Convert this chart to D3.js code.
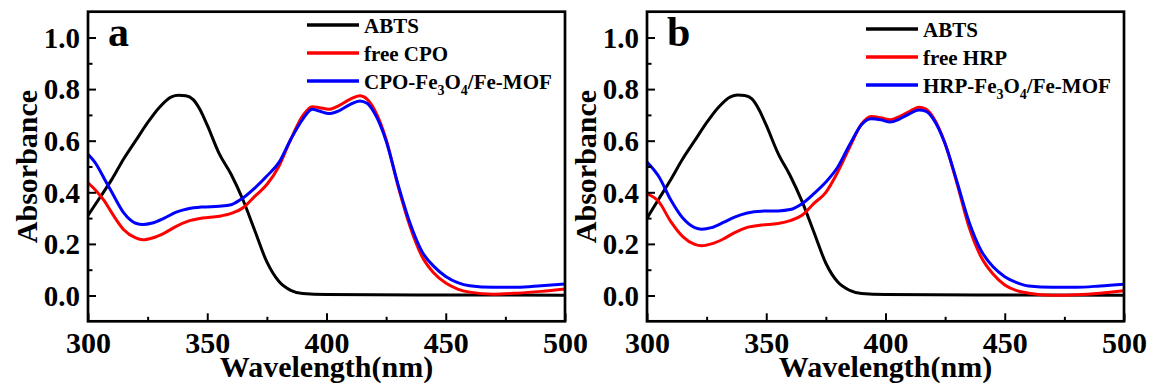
<!DOCTYPE html>
<html>
<head>
<meta charset="utf-8">
<script src="https://cdn.jsdelivr.net/npm/d3@7"></script>
<style>
  body { margin: 0; background: #fff; }
  svg { display: block; }
  text { font-family: "Liberation Serif", "Times New Roman", serif; font-weight: bold; fill: #000; }
</style>
</head>
<body>
<svg id="chart" width="1150" height="385"></svg>
<script>
// wavelengths (nm) for the ABTS curves
var wlAbts = [300,305,310,315,320,325,330,335,338,341,344,347,350,355,360,365,370,375,380,385,390,400,450,500];
var abtsA = [0.31,0.38,0.45,0.53,0.60,0.67,0.73,0.77,0.776,0.774,0.76,0.72,0.66,0.55,0.47,0.37,0.25,0.13,0.055,0.02,0.008,0.004,0.002,0.001];
var abtsB = [0.30,0.375,0.45,0.53,0.60,0.67,0.73,0.77,0.777,0.775,0.762,0.72,0.66,0.55,0.465,0.365,0.245,0.125,0.052,0.02,0.008,0.004,0.002,0.001];

// panel a: CPO
var wlA = [300,303,307,310,315,320,323,327,332,337,342,348,355,360,365,370,375,380,385,390,394,397,401,405,410,414,417,420,425,430,435,440,445,450,455,460,470,480,490,500];
var freeCPO = [0.437,0.41,0.365,0.32,0.255,0.223,0.216,0.223,0.242,0.268,0.288,0.30,0.307,0.318,0.34,0.385,0.43,0.50,0.605,0.696,0.732,0.728,0.722,0.735,0.761,0.774,0.761,0.722,0.605,0.424,0.268,0.152,0.087,0.048,0.025,0.013,0.005,0.009,0.016,0.025];
var cpoMOF = [0.547,0.515,0.45,0.40,0.32,0.28,0.275,0.281,0.30,0.323,0.336,0.343,0.346,0.352,0.378,0.417,0.463,0.515,0.605,0.683,0.722,0.715,0.705,0.715,0.741,0.754,0.745,0.709,0.599,0.43,0.281,0.171,0.113,0.074,0.05,0.038,0.032,0.032,0.038,0.045];

// panel b: HRP
var wlB = [300,305,310,315,320,323,327,332,337,342,348,355,360,365,370,375,380,385,390,394,398,402,406,410,414,417,420,425,430,435,440,445,450,455,460,470,480,490,500];
var freeHRP = [0.395,0.363,0.286,0.228,0.198,0.193,0.20,0.219,0.245,0.264,0.273,0.279,0.29,0.311,0.357,0.40,0.479,0.575,0.665,0.694,0.689,0.681,0.694,0.713,0.73,0.723,0.691,0.588,0.434,0.266,0.151,0.084,0.041,0.019,0.009,0.001,0.003,0.009,0.018];
var hrpMOF = [0.517,0.46,0.37,0.30,0.263,0.257,0.263,0.283,0.305,0.32,0.327,0.328,0.333,0.356,0.395,0.44,0.498,0.585,0.663,0.685,0.681,0.672,0.685,0.704,0.719,0.714,0.685,0.588,0.44,0.286,0.176,0.112,0.073,0.05,0.037,0.032,0.032,0.037,0.044];

var xTicks = [300,350,400,450,500];
var xMinor = [325,375,425,475];
var yTicks = [0,0.2,0.4,0.6,0.8,1.0];
var yMinor = [0.1,0.3,0.5,0.7,0.9];

var panels = [
  {letter: "a", left: 88, legendTop: 25,
   series: [
     {name: "ABTS", wl: wlAbts, v: abtsA, color: "#000"},
     {name: "free CPO", wl: wlA, v: freeCPO, color: "#ff0000"},
     {name: "CPO-Fe|3|O|4|/Fe-MOF", wl: wlA, v: cpoMOF, color: "#0000ff"}
   ]},
  {letter: "b", left: 647, legendTop: 29,
   series: [
     {name: "ABTS", wl: wlAbts, v: abtsB, color: "#000"},
     {name: "free HRP", wl: wlB, v: freeHRP, color: "#ff0000"},
     {name: "HRP-Fe|3|O|4|/Fe-MOF", wl: wlB, v: hrpMOF, color: "#0000ff"}
   ]}
];

var plotTop = 11.7, width = 477, height = 309.6;
var svg = d3.select("#chart");

panels.forEach(function(p) {
  var x = d3.scaleLinear().domain([300, 500]).range([0, width]);
  var y = d3.scaleLinear().domain([-0.1, 1.1]).range([height, 0]);

  var g = svg.append("g").attr("transform", `translate(${p.left},${plotTop})`);

  g.append("clipPath").attr("id", "clip" + p.letter)
    .append("rect").attr("width", width).attr("height", height);

  var line = d3.line()
    .x(d => x(d[0]))
    .y(d => y(d[1]))
    .curve(d3.curveMonotoneX);

  g.append("g")
    .attr("clip-path", `url(#clip${p.letter})`)
    .selectAll("path")
    .data(p.series)
    .join("path")
    .attr("fill", "none")
    .attr("stroke", d => d.color)
    .attr("stroke-width", 3)
    .attr("stroke-linejoin", "round")
    .attr("d", d => line(d.wl.map((w, i) => [w, d.v[i]])));

  // axes, ticks pointing inward
  var xAxis = g.append("g")
    .attr("transform", `translate(0,${height})`)
    .call(d3.axisBottom(x).tickValues(xTicks).tickSizeInner(-8).tickSizeOuter(0).tickPadding(0));
  xAxis.selectAll("text")
    .attr("dy", null)
    .attr("y", 31.5)
    .style("font-size", "30px");

  g.append("g")
    .attr("transform", `translate(0,${height})`)
    .call(d3.axisBottom(x).tickValues(xMinor).tickSizeInner(-4.5).tickSizeOuter(0).tickFormat(""));

  var yAxis = g.append("g")
    .call(d3.axisLeft(y).tickValues(yTicks).tickSizeInner(-8).tickSizeOuter(0).tickPadding(8).tickFormat(d3.format(".1f")));
  yAxis.selectAll("text")
    .attr("dy", "0.34em")
    .style("font-size", "29px");

  g.append("g")
    .call(d3.axisLeft(y).tickValues(yMinor).tickSizeInner(-4.5).tickSizeOuter(0).tickFormat(""));

  g.selectAll(".domain").remove();
  g.selectAll(".tick line").attr("stroke", "#000").attr("stroke-width", 2);

  g.append("rect")
    .attr("width", width)
    .attr("height", height)
    .attr("fill", "none")
    .attr("stroke", "#000")
    .attr("stroke-width", 2.7);

  // panel letter
  g.append("text")
    .attr("x", 20)
    .attr("y", 46 - plotTop)
    .style("font-size", "42px")
    .text(p.letter);

  // axis titles
  svg.append("text")
    .attr("x", p.left + width / 2)
    .attr("y", 377)
    .attr("text-anchor", "middle")
    .style("font-size", "30px")
    .text("Wavelength(nm)");

  svg.append("text")
    .attr("transform", `translate(${p.left - 51},${plotTop + height / 2}) rotate(-90)`)
    .attr("text-anchor", "middle")
    .style("font-size", "30px")
    .text("Absorbance");

  // legend
  var lg = svg.append("g")
    .attr("transform", `translate(${p.left + width - 258},${p.legendTop})`);
  var item = lg.selectAll("g")
    .data(p.series)
    .join("g")
    .attr("transform", (d, i) => `translate(0,${i * 28})`);
  item.append("line")
    .attr("x1", 0).attr("x2", 52)
    .attr("stroke", d => d.color)
    .attr("stroke-width", 3.5);
  item.append("text")
    .attr("x", 57)
    .attr("y", 7.5)
    .style("font-size", "21px")
    .each(function(d) {
      var t = d3.select(this);
      d.name.split("|").forEach(function(part, k) {
        var sub = k % 2 === 1;
        t.append("tspan")
          .attr("dy", sub ? 6 : (k > 0 ? -6 : 0))
          .style("font-size", sub ? "14px" : null)
          .text(part);
      });
    });
});
</script>
</body>
</html>
